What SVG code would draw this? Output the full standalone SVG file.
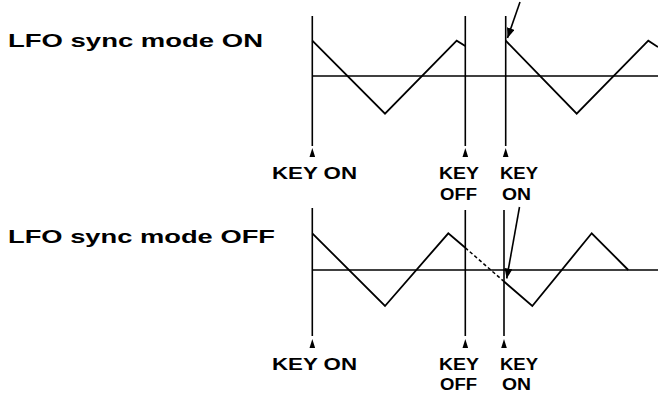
<svg xmlns="http://www.w3.org/2000/svg" xmlns:xlink="http://www.w3.org/1999/xlink" width="658" height="394" viewBox="0 0 658 394">
<style>
.t{font-family:"Liberation Sans",Arial,sans-serif;font-weight:bold;fill:#000}
.title{font-size:18.5px}
.k{font-size:16px}
.ln{stroke:#000;stroke-width:1.6;fill:none}
.w{stroke:#000;stroke-width:1.8;fill:none;stroke-linejoin:miter}
.d{stroke:#000;stroke-width:1.5;fill:none;stroke-dasharray:3.5 2.5}
</style>
<defs>
<path id="tri" d="M0,0 L-2.8,9 L2.8,9 Z" fill="#000"/>
<marker id="ah" viewBox="0 0 10 8" refX="10" refY="4" markerWidth="10" markerHeight="8" markerUnits="userSpaceOnUse" orient="auto">
<path d="M0,0 L10,4 L0,8 Z" fill="#000"/>
</marker>
</defs>
<rect width="658" height="394" fill="#fff"/>

<g id="top-title"><text class="t title" x="8" y="47" textLength="255" lengthAdjust="spacingAndGlyphs">LFO sync mode ON</text></g>
<g id="bottom-title"><text class="t title" x="8" y="242.5" textLength="267" lengthAdjust="spacingAndGlyphs">LFO sync mode OFF</text></g>

<g id="top-chart">
<line class="ln" x1="312" y1="76" x2="658" y2="76"/>
<line class="ln" x1="312.3" y1="16" x2="312.3" y2="146"/>
<line class="ln" x1="465.3" y1="16" x2="465.3" y2="146"/>
<line class="ln" x1="505.7" y1="16" x2="505.7" y2="146"/>
<polyline class="w" points="312.3,40.7 385,113.7 456.7,40.7 465.3,46"/>
<polyline class="w" points="505.7,40.7 576.7,113.7 648.3,40.7 658,47"/>
<use xlink:href="#tri" x="312.3" y="148"/>
<use xlink:href="#tri" x="465.3" y="148"/>
<use xlink:href="#tri" x="505.7" y="148"/>
</g>

<g id="top-labels">
<text class="t k" x="272" y="179" textLength="85" lengthAdjust="spacingAndGlyphs">KEY ON</text>
<text class="t k" x="439" y="179" textLength="40" lengthAdjust="spacingAndGlyphs">KEY</text>
<text class="t k" x="440" y="200" textLength="37" lengthAdjust="spacingAndGlyphs">OFF</text>
<text class="t k" x="500" y="179" textLength="38" lengthAdjust="spacingAndGlyphs">KEY</text>
<text class="t k" x="502" y="200" textLength="29" lengthAdjust="spacingAndGlyphs">ON</text>
</g>

<g id="bottom-chart">
<line class="ln" x1="312" y1="270" x2="658" y2="270"/>
<line class="ln" x1="312.3" y1="208" x2="312.3" y2="336"/>
<line class="ln" x1="465.3" y1="210" x2="465.3" y2="336"/>
<line class="ln" x1="504" y1="210" x2="504" y2="336"/>
<polyline class="w" points="312.3,233.3 385,306 448.3,233.3 465.3,247.8"/>
<line class="d" x1="465.3" y1="247.8" x2="504" y2="281.5"/>
<polyline class="w" points="504,281.5 532.3,306 591.7,233.3 628.3,270"/>
<use xlink:href="#tri" x="312.3" y="339"/>
<use xlink:href="#tri" x="465.3" y="339"/>
<use xlink:href="#tri" x="504" y="339"/>
</g>

<g id="bottom-labels">
<text class="t k" x="272" y="370" textLength="85" lengthAdjust="spacingAndGlyphs">KEY ON</text>
<text class="t k" x="439" y="370" textLength="40" lengthAdjust="spacingAndGlyphs">KEY</text>
<text class="t k" x="440" y="390" textLength="37" lengthAdjust="spacingAndGlyphs">OFF</text>
<text class="t k" x="500" y="370" textLength="38" lengthAdjust="spacingAndGlyphs">KEY</text>
<text class="t k" x="502" y="390" textLength="29" lengthAdjust="spacingAndGlyphs">ON</text>
</g>

<g id="connectors">
<line class="ln" x1="520" y1="2" x2="507.5" y2="38" marker-end="url(#ah)"/>
<line class="ln" x1="519.5" y1="207" x2="506.7" y2="278.5" marker-end="url(#ah)"/>
</g>
</svg>
